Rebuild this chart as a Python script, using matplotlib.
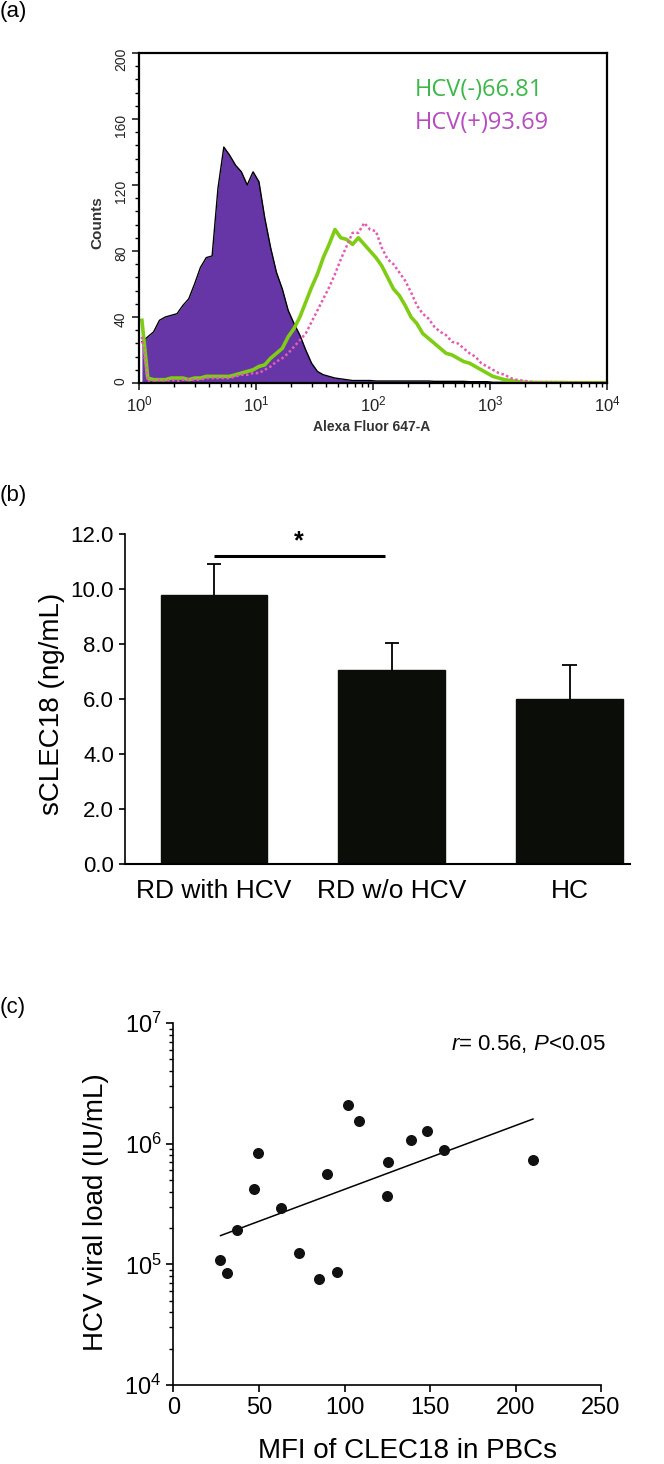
import numpy as np
import matplotlib
matplotlib.use("Agg")
import matplotlib.pyplot as plt
from matplotlib.ticker import LogLocator, MultipleLocator, NullFormatter

plt.rcParams['font.family'] = ['Liberation Sans', 'DejaVu Sans']
plt.rcParams['mathtext.fontset'] = 'custom'
plt.rcParams['mathtext.rm'] = 'Liberation Sans'
plt.rcParams['mathtext.it'] = 'Liberation Sans:italic'
plt.rcParams['mathtext.bf'] = 'Liberation Sans:bold'

# ---- (a) flow histogram, 80 channels over 4 log decades ----
n_channels = 80
isotype_counts = [25, 28, 31, 38, 40, 41, 42, 47, 51, 60,
                  70, 76, 77, 118, 143, 138, 132, 128, 120, 128,
                  122, 100, 82, 67, 57, 44, 36, 29, 20, 12,
                  7, 5, 4, 3, 2.5, 2, 1.5, 1.5, 1.5, 1.5,
                  1.2, 1.2, 1.2, 1.2, 1.2, 1.2, 1.2, 1.2, 1.2, 1.2,
                  1, 1, 1, 1, 1, 1, 0.8, 0.8, 0.8, 0.8,
                  0.4, 0.4, 0.4, 0.4, 0, 0, 0, 0, 0, 0,
                  0, 0, 0, 0, 0, 0, 0, 0, 0, 0]
hcv_neg_counts = [38, 3, 2, 2, 2, 3, 3, 3, 2, 3,
                  3, 4, 4, 4, 4, 4, 5, 6, 7, 8,
                  10, 11, 15, 18, 21, 28, 33, 40, 49, 58,
                  66, 76, 84, 93, 88, 87, 84, 88, 84, 80,
                  76, 71, 64, 57, 53, 47, 40, 36, 30, 27,
                  24, 21, 18, 17, 15, 13, 12, 10, 8, 6,
                  4, 3, 2, 1.5, 1, 0.6, 0.3, 0.3, 0.3, 0.3,
                  0.3, 0.3, 0.3, 0.2, 0.2, 0.2, 0.2, 0.2, 0.2, 0.2]
hcv_pos_counts = [28, 1, 1, 2, 1, 2, 1, 2, 2, 2,
                  2, 3, 3, 3, 3, 3, 4, 5, 5, 6,
                  6, 8, 10, 13, 15, 18, 22, 26, 30, 37,
                  44, 51, 58, 66, 75, 83, 91, 91, 97, 93,
                  92, 82, 75, 72, 67, 62, 55, 47, 42, 39,
                  34, 31, 29, 25, 24, 21, 18, 16, 12, 10,
                  8, 6, 5, 3, 2, 1.5, 1, 0.5, 0.5, 0.5,
                  0.5, 0.3, 0.3, 0.3, 0.3, 0.3, 0.3, 0.3, 0.3, 0.3]
legend_labels = ["HCV(-)66.81", "HCV(+)93.69"]

# ---- (b) serum CLEC18 ----
groups = ["RD with HCV", "RD w/o HCV", "HC"]
sclec18_mean = [9.8, 7.05, 6.0]
sclec18_err = [1.1, 1.0, 1.25]

# ---- (c) MFI vs viral load ----
mfi = [27.3, 31.5, 37.1, 47.0, 49.7, 62.7, 73.5, 85.3, 89.5, 95.6,
       102.3, 108.2, 125.4, 124.9, 138.9, 148.2, 158.3, 210.2]
viral_load = [1.08e5, 8.4e4, 1.93e5, 4.22e5, 8.4e5, 2.95e5, 1.23e5, 7.6e4, 5.6e5, 8.7e4,
              2.08e6, 1.53e6, 7.08e5, 3.68e5, 1.08e6, 1.28e6, 8.8e5, 7.3e5]
fit_x = [27.5, 210.2]
fit_y = [1.73e5, 1.6e6]

W, H = 664, 1464
fig = plt.figure(figsize=(W / 100, H / 100), dpi=100)


def fx(px):
    return px / W


def fy(py):
    return 1 - py / H


# ---------------- panel (a) ----------------
ax1 = fig.add_axes([fx(139), fy(383), fx(607 - 139), (383 - 53) / H])
edges = np.logspace(0, 4, n_channels + 1)
centers = np.sqrt(edges[:-1] * edges[1:])
ax1.fill_between(centers, isotype_counts, 0, color='#6636a6', lw=0)
ax1.plot(centers, isotype_counts, color='black', lw=1.0)
ax1.plot(centers, hcv_neg_counts, color='#7fcc14', lw=2.6)
ax1.plot(centers, hcv_pos_counts, color='#e25cb4', lw=1.8, ls=(0, (1, 1)))
ax1.set_xscale('log')
ax1.set_xlim(1, 1e4)
ax1.set_ylim(0, 200)
ax1.set_yticks([0, 40, 80, 120, 160, 200])
ax1.yaxis.set_minor_locator(MultipleLocator(8))
ax1.xaxis.set_major_locator(LogLocator(base=10))
ax1.xaxis.set_minor_locator(LogLocator(base=10, subs=np.arange(2, 10)))
ax1.xaxis.set_minor_formatter(NullFormatter())
ax1.tick_params(axis='both', which='major', direction='out', length=5, width=1.2,
                labelsize=12, colors='#222222')
ax1.tick_params(axis='both', which='minor', direction='out', length=3, width=1.0)
ax1.tick_params(axis='y', labelrotation=90, pad=3, labelsize=10)
for s in ax1.spines.values():
    s.set_linewidth(1.6)
ax1.text(fx(415), fy(90), legend_labels[0], transform=fig.transFigure,
         color='#3cb84a', fontsize=17, family=['Open Sans', 'DejaVu Sans'],
         ha='left', va='center')
ax1.text(fx(415), fy(123), legend_labels[1], transform=fig.transFigure,
         color='#b64cc0', fontsize=17, family=['Open Sans', 'DejaVu Sans'],
         ha='left', va='center')
fig.text(fx(97), fy(223), "Counts", rotation=90, ha='center', va='center',
         fontsize=11, weight='bold', color='#333333')
fig.text(fx(372), fy(427), "Alexa Fluor 647-A", ha='center', va='center',
         fontsize=10, weight='bold', color='#333333')

# ---------------- panel (b) ----------------
ax2 = fig.add_axes([fx(125), fy(864), fx(630 - 125), (864 - 534) / H])
xpos = np.arange(len(groups))
ax2.bar(xpos, sclec18_mean, width=0.6, color='#0b0d08', edgecolor='#0b0d08')
tops = np.array(sclec18_mean) + np.array(sclec18_err)
ax2.vlines(xpos, sclec18_mean, tops, color='black', lw=1.3)
ax2.hlines(tops, xpos - 0.04, xpos + 0.04, color='black', lw=1.3)
ax2.set_xlim(-0.5, 2.34)
ax2.set_ylim(0, 12)
ax2.set_yticks(np.arange(0, 13, 2))
ax2.set_yticklabels([f"{v:.1f}" for v in np.arange(0, 13, 2)])
ax2.set_xticks(xpos)
ax2.set_xticklabels(groups)
ax2.tick_params(axis='y', direction='out', length=4, width=1.2, labelsize=16, pad=4)
ax2.tick_params(axis='x', length=0, labelsize=19, pad=11)
for side in ['top', 'right']:
    ax2.spines[side].set_visible(False)
ax2.spines['left'].set_linewidth(1.2)
ax2.spines['bottom'].set_linewidth(1.5)
ax2.plot([0, 0.96], [11.2, 11.2], color='black', lw=2.2, solid_capstyle='butt')
ax2.text(0.48, 11.3, "*", ha='center', va='bottom', fontsize=18, weight='bold')
fig.text(fx(52), fy(704), "sCLEC18 (ng/mL)", rotation=90, ha='center', va='center',
         fontsize=20)

# ---------------- panel (c) ----------------
ax3 = fig.add_axes([fx(173.5), fy(1385), fx(601 - 173.5), (1385 - 1023) / H])
ax3.scatter(mfi, viral_load, s=48, color='#111111', zorder=3)
ax3.plot(fit_x, fit_y, color='black', lw=1.1)
ax3.set_yscale('log')
ax3.set_xlim(0, 250)
ax3.set_ylim(1e4, 1e7)
ax3.set_xticks(np.arange(0, 251, 50))
ax3.yaxis.set_major_locator(LogLocator(base=10))
ax3.yaxis.set_minor_locator(LogLocator(base=10, subs=np.arange(2, 10)))
ax3.yaxis.set_minor_formatter(NullFormatter())
ax3.tick_params(axis='both', which='major', direction='out', length=5, width=1.2,
                labelsize=17)
ax3.tick_params(axis='y', which='minor', direction='out', length=3, width=1.0)
for side in ['top', 'right']:
    ax3.spines[side].set_visible(False)
ax3.spines['left'].set_linewidth(1.2)
ax3.spines['bottom'].set_linewidth(1.2)
ax3.text(1.01, 0.942, r"$\mathit{r}$= 0.56, $\mathit{P}$<0.05", transform=ax3.transAxes,
         ha='right', va='center', fontsize=16)
fig.text(fx(96), fy(1212), "HCV viral load (IU/mL)", rotation=90, ha='center',
         va='center', fontsize=20)
fig.text(fx(407), fy(1451), "MFI of CLEC18 in PBCs", ha='center', va='center',
         fontsize=20)

# panel letters
fig.text(0.0, fy(12), "(a)", ha='left', va='center', fontsize=16)
fig.text(0.0, fy(496), "(b)", ha='left', va='center', fontsize=16)
fig.text(0.0, fy(1007), "(c)", ha='left', va='center', fontsize=16)

fig.savefig("out.png", dpi=100)
